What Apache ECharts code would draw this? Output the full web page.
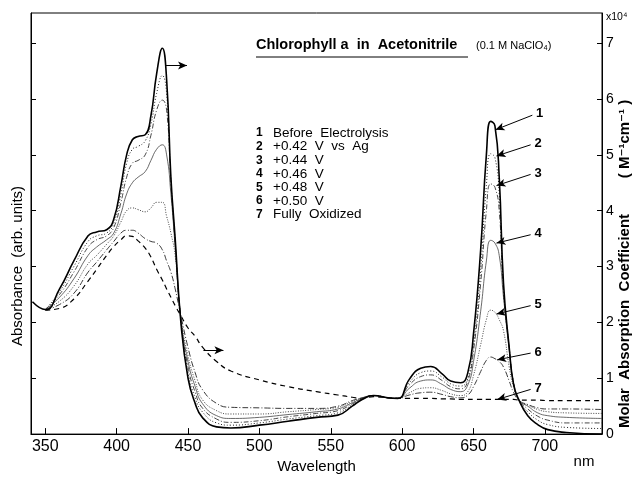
<!DOCTYPE html>
<html>
<head>
<meta charset="utf-8">
<script src="https://cdn.jsdelivr.net/npm/echarts@6/dist/echarts.min.js"></script>
<style>html,body{margin:0;padding:0;background:#fff;}#chart{width:635px;height:479px;}</style>
</head>
<body>
<div id="chart"></div>
<script>
// ---- data ----
const wavelengths = [341,350,360,370,380,386,393,398,403,407,411,415,420,424,428,432,435,438,441,445,450,455,460,470,480,500,520,540,555,565,572,580,590,597,605,613,620,628,634,641,646,650,655,659,662,665,668,671,675,678,682,688,695,702,715,740];
const curve1 = [2.37,2.23,2.6,3.1,3.55, 3.62,3.66,3.85,4.45,5.0, 5.27,5.33,5.36,5.7,6.45, 6.91,6.35,4.6,3.5,2.0, 1.0,0.55,0.3,0.13,0.11, 0.16,0.23,0.3,0.34,0.5, 0.62,0.69,0.65,0.64,0.98, 1.18,1.21,1.08,0.95,0.92, 1.1,1.8,3.3,5.0,5.6, 5.52,4.6,2.7,1.55,0.9, 0.6,0.33,0.17,0.08,0.03, 0.0];
const curve2 = [null,2.23,2.55,3.0,3.45, 3.55,3.6,3.78,4.3,4.85, 5.1,5.15,5.25,5.55,6.1, 6.42,6.1,4.55,3.45,2.03, 1.1,0.65,0.4,0.2,0.16, 0.2,0.27,0.33,0.38,0.52, 0.63,0.69,0.65,0.64,0.92, 1.1,1.13,1.02,0.9,0.86, 1.0,1.6,2.95,4.45,5.02, 4.95,4.3,2.6,1.55,0.92, 0.6,0.4,0.25,0.17,0.12, 0.1];
const curve3 = [null,2.23,2.5,2.9,3.35, 3.48,3.55,3.7,4.15,4.6, 4.85,4.9,5.0,5.35,5.8, 5.98,5.8,4.5,3.4,2.05, 1.2,0.75,0.47,0.27,0.21, 0.24,0.31,0.37,0.42,0.54, 0.64,0.69,0.65,0.64,0.88, 1.03,1.06,0.96,0.85,0.81, 0.95,1.5,2.7,4.0,4.48, 4.42,4.0,2.55,1.55,0.92, 0.6,0.45,0.32,0.25,0.2, 0.2];
const curve4 = [null,2.23,2.45,2.78,3.2, 3.35,3.48,3.6,3.95,4.3, 4.5,4.6,4.7,4.9,5.1, 5.18,5.0,4.3,3.35,2.07, 1.3,0.85,0.55,0.33,0.28, 0.3,0.35,0.4,0.45,0.56, 0.64,0.69,0.65,0.64,0.82, 0.95,0.97,0.89,0.8,0.76, 0.88,1.3,2.2,3.1,3.47, 3.42,3.2,2.45,1.5,0.92, 0.6,0.5,0.38,0.33,0.3, 0.28];
const curve5 = [null,2.23,2.38,2.65,3.05, 3.2,3.4,3.55,3.8,4.0, 4.05,4.02,3.98,4.05,4.15, 4.15,3.9,3.6,3.2,2.1, 1.4,0.95,0.62,0.42,0.36, 0.36,0.4,0.44,0.48,0.58, 0.65,0.69,0.65,0.64,0.74, 0.82,0.83,0.78,0.72,0.69, 0.76,1.05,1.6,2.05,2.22, 2.18,2.05,1.85,1.2,0.85, 0.6,0.52,0.44,0.4,0.38, 0.37];
const curve6 = [null,2.22,2.32,2.52,2.9, 3.08,3.3,3.45,3.6,3.65, 3.65,3.6,3.5,3.45,3.42, 3.3,3.1,2.9,2.6,2.12, 1.55,1.1,0.8,0.55,0.48, 0.47,0.46,0.46,0.5,0.6, 0.65,0.69,0.65,0.64,0.7, 0.74,0.75,0.71,0.67,0.65, 0.7,0.85,1.12,1.32,1.38, 1.35,1.3,1.2,0.95,0.75, 0.6,0.53,0.47,0.45,0.45, 0.44];
const curve7 = [null,2.22,2.25,2.42,2.74, 2.95,3.2,3.36,3.48,3.55, 3.54,3.46,3.33,3.17,2.95, 2.76,2.6,2.45,2.3,2.12, 1.9,1.75,1.56,1.3,1.13, 0.97,0.85,0.76,0.7,0.66, 0.64,0.67,0.65,0.64,0.64, 0.64,0.64,0.63,0.63,0.62, 0.62,0.62,0.62,0.62,0.62, 0.62,0.62,0.62,0.62,0.62, 0.61,0.61,0.61,0.6,0.6, 0.6];
const xTicks = [350,400,450,500,550,600,650,700];
const yTicks = [0,1,2,3,4,5,6,7];
const legendNums = ['1','2','3','4','5','6','7'];
const legendTexts = ['Before  Electrolysis','+0.42  V  vs  Ag','+0.44  V','+0.46  V','+0.48  V','+0.50  V','Fully  Oxidized'];
const arrowFrom = [[691.2,5.71],[690,5.18],[690,4.65],[690,3.57],[690,2.30],[690,1.45],[690,0.80]];
const arrowTo   = [[665.4,5.45],[666.1,4.98],[666.1,4.45],[666.1,3.42],[666.1,2.15],[666.6,1.33],[666.6,0.62]];
const axisArrows = [[[434.6,6.6],[449.3,6.6]],[[460.8,1.5],[474.8,1.5]]];

// ---- chart ----
const FONT = '"Liberation Sans", Arial, "DejaVu Sans", sans-serif';
const curves = [curve1,curve2,curve3,curve4,curve5,curve6,curve7];
const styles = [
  {width:1.6, type:'solid', color:'#000'},
  {width:1.0, type:[1,2], color:'#222'},
  {width:0.9, type:[5,2,1,2], color:'#333'},
  {width:0.8, type:'solid', color:'#444'},
  {width:0.9, type:[1,1.5], color:'#333'},
  {width:0.9, type:[6,2,1,2], color:'#222'},
  {width:1.2, type:[5,4], color:'#000'}
];
const series = curves.map((arr,k)=>({
  type:'line', name:legendNums[k], showSymbol:false, smooth:0.5,
  data: wavelengths.map((w,i)=>[w, arr[i]]), lineStyle: styles[k], z: 10-k, silent:true
}));
const mlData = [];
arrowFrom.forEach((f,i)=>{
  mlData.push([{coord:f, name:legendNums[i], label:{show:true}}, {coord:arrowTo[i]}]);
});
axisArrows.forEach(a=>{
  mlData.push([{coord:a[0], label:{show:false}}, {coord:a[1]}]);
});
series.push({
  type:'line', data:[], silent:true,
  markLine:{
    silent:true, animation:false, symbol:['none','arrow'], symbolSize:[6,9],
    lineStyle:{color:'#000', width:1, type:'solid'},
    label:{position:'start', formatter:'{b}', color:'#000', fontFamily:FONT, fontWeight:'bold', fontSize:13, distance:4},
    data: mlData
  }
});

const gText = (x,y,text,opts)=>Object.assign({type:'text', x:x, y:y, style:Object.assign({text:text, fill:'#000', font:'14px '+FONT, textAlign:'left', textVerticalAlign:'middle'}, opts||{})});
const graphic = [];
graphic.push(gText(256,45,'Chlorophyll a  in  Acetonitrile',{font:'bold 14.5px '+FONT}));
graphic.push({type:'line', shape:{x1:256,y1:57,x2:468,y2:57}, style:{stroke:'#000', lineWidth:1}});
graphic.push(gText(476,46,'(0.1 M NaClO\u2084)',{font:'11px '+FONT}));
legendNums.forEach((n,i)=>{
  graphic.push(gText(256,133+i*13.6,n,{font:'bold 12px '+FONT}));
  graphic.push(gText(273,133+i*13.6,legendTexts[i],{font:'13.5px '+FONT}));
});
graphic.push(gText(606,17,'x10\u2074',{font:'10.5px '+FONT}));
graphic.push(gText(584,462,'nm',{font:'15px '+FONT, textAlign:'center'}));
graphic.push(Object.assign(gText(625,321,'Molar  Absorption  Coefficient',{font:'bold 15px '+FONT, textAlign:'center'}),{rotation:Math.PI/2}));
graphic.push(Object.assign(gText(625,139,'( M\u207B\u00B9cm\u207B\u00B9 )',{font:'bold 15px '+FONT, textAlign:'center'}),{rotation:Math.PI/2}));
graphic.push(Object.assign(gText(18,266,'Absorbance  (arb. units)',{font:'15px '+FONT, textAlign:'center'}),{rotation:Math.PI/2}));

const option = {
  animation:false,
  backgroundColor:'#fff',
  grid:{left:31, right:33, top:13, bottom:39, show:true, borderColor:'#000', borderWidth:1},
  xAxis:{
    type:'value', min:340, max:740,
    name:'Wavelength', nameLocation:'middle', nameGap:24,
    nameTextStyle:{color:'#000', fontFamily:FONT, fontSize:15},
    axisLine:{show:true, lineStyle:{color:'#000', width:1.2}},
    axisTick:{show:true, inside:true, length:6, customValues:xTicks, lineStyle:{color:'#000'}},
    axisLabel:{show:true, customValues:xTicks, color:'#000', fontFamily:FONT, fontSize:16, margin:4},
    splitLine:{show:false}
  },
  yAxis:[{
    type:'value', min:0, max:7.54, position:'left',
    axisLine:{show:true, lineStyle:{color:'#000', width:1}},
    axisTick:{show:true, inside:true, length:5, customValues:yTicks, lineStyle:{color:'#000'}},
    axisLabel:{show:false},
    splitLine:{show:false}
  },{
    type:'value', min:0, max:7.54, position:'right',
    axisLine:{show:true, lineStyle:{color:'#000', width:1}},
    axisTick:{show:true, inside:true, length:5, customValues:yTicks, lineStyle:{color:'#000'}},
    axisLabel:{show:true, customValues:yTicks, color:'#000', fontFamily:FONT, fontSize:14, margin:4},
    splitLine:{show:false}
  }],
  series: series,
  graphic: graphic
};
const chart = echarts.init(document.getElementById('chart'), null, {renderer:'canvas'});
chart.setOption(option);
</script>
</body>
</html>
